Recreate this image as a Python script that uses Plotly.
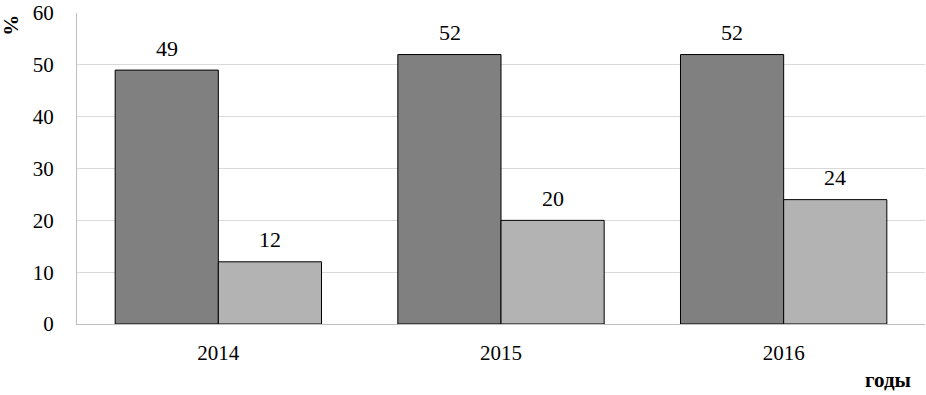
import plotly.graph_objects as go

years = ["2014", "2015", "2016"]
series_a = [49, 52, 52]
series_b = [12, 20, 24]
y_ticks = [0, 10, 20, 30, 40, 50, 60]

font = "Liberation Serif"

fig = go.Figure()
fig.add_trace(go.Bar(x=years, y=series_a, marker=dict(color="#808080", line=dict(color="#000000", width=1))))
fig.add_trace(go.Bar(x=years, y=series_b, marker=dict(color="#b3b3b3", line=dict(color="#000000", width=1))))

for ys, shift in [(series_a, -51.5), (series_b, 51.5)]:
    for i, yv in enumerate(ys):
        fig.add_annotation(x=i, y=yv, text=str(yv), showarrow=False, xshift=shift, yshift=22,
                           xanchor="center", yanchor="middle",
                           font=dict(family=font, size=22, color="black"))

fig.update_layout(
    width=926, height=395,
    margin=dict(l=77, r=1, t=8, b=71),
    plot_bgcolor="white", paper_bgcolor="white",
    barmode="group", bargap=0.27, bargroupgap=0,
    showlegend=False,
    font=dict(family=font, size=21, color="black"),
    xaxis=dict(type="category", showgrid=False, showline=True, linecolor="#bfbfbf", linewidth=1,
               ticks="", tickfont=dict(family=font, size=21), ticklabelstandoff=10),
    yaxis=dict(range=[0, 60.02], tickvals=y_ticks, showgrid=True, gridcolor="#d9d9d9", gridwidth=1,
               showline=True, linecolor="#bfbfbf", linewidth=1, ticks="", ticklen=0,
               tickfont=dict(family=font, size=21), zeroline=False, ticklabelstandoff=18,
               ticklabeloverflow="allow"),
)
fig.add_annotation(text="<b>%</b>", xref="paper", yref="paper", x=-0.078, y=0.96, xanchor="center", yanchor="middle",
                   textangle=90, showarrow=False, font=dict(family=font, size=21, color="black"))
fig.add_annotation(text="<b>годы</b>", xref="paper", yref="paper", x=(913 - 77) / 848, y=-0.18, xanchor="right", yanchor="middle",
                   showarrow=False, font=dict(family=font, size=21, color="black"))

fig.write_html("out.html", config={"displayModeBar": False},
               post_script="document.body.style.margin='0';document.body.style.padding='0';")
